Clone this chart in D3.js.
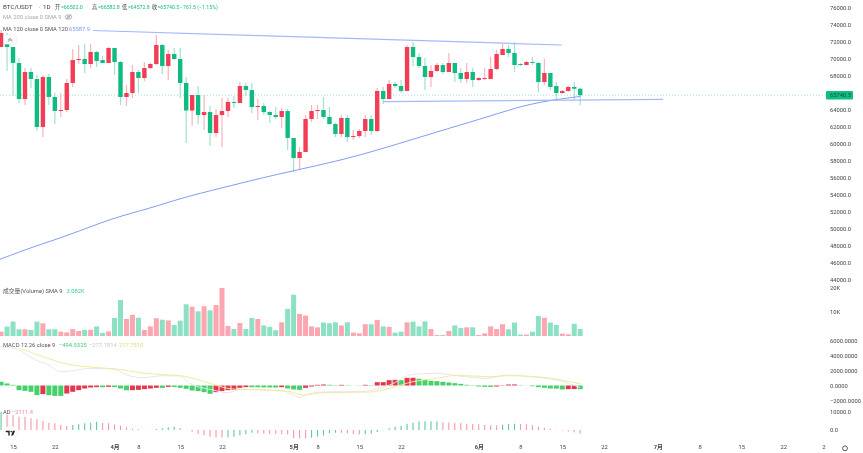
<!DOCTYPE html>
<html>
<head>
<meta charset="utf-8">
<script src="https://cdn.jsdelivr.net/npm/d3@7"></script>
<style>
  html, body { margin: 0; padding: 0; background: #fff; }
  svg { display: block; filter: blur(0.45px); }
  text { font-family: Roboto, "Noto Sans CJK SC", sans-serif; }
  .axis text { font-size: 5.8px; fill: #444; }
  .axis .domain { display: none; }
</style>
</head>
<body>
<div class="chart-container"></div>
<script>
// Candles, left to right, one per day (index 2 is 15 March, index 97 is 18 June)
var opens = [
  71410,71770,71410,69530,65290,68470,67650,62000,67880,65530,
  63880,64000,67180,69880,70000,69410,70820,69880,69530,71290,
  69650,65530,66000,68470,67760,68940,69410,71650,69180,70590,
  70000,67180,63940,65760,63410,63760,61290,63410,63880,64940,
  64820,66820,66350,64350,64470,63760,63410,63180,63880,60710,
  58350,59060,62940,63880,64000,63180,62350,61180,63060,60820,
  60940,61530,62940,61530,66240,65290,67060,66820,66240,71410,
  70240,69180,67880,68590,69290,68470,69530,68350,67650,68470,
  67530,67700,67650,68820,70470,71180,70710,69410,69290,69650,
  69530,67290,68350,66820,66000,66240,66710,66502
];
var highs = [
  73410,73060,71410,70120,68940,68940,68120,68120,68240,66000,
  66000,67650,71180,71650,71770,71770,70940,70350,71410,71290,
  69760,66940,69290,68710,69650,69530,72820,71770,71060,71290,
  71290,67880,65760,66820,65760,64470,64120,65410,65410,65650,
  67290,67180,67180,65290,64820,63880,64350,64240,64120,60710,
  59650,63410,64590,64590,65530,64350,62470,63410,63410,61650,
  61760,63410,63410,66590,66710,67530,67290,67530,71650,72000,
  70710,70120,69290,69530,69530,70710,69530,68940,69530,68940,
  67880,68940,70240,71060,71770,71650,72000,69530,69760,70240,
  69650,70000,68350,67290,66350,66820,67290,66582.8
];
var lows = [
  71410,68590,65650,64820,64590,66590,61530,60820,64590,62350,
  63180,63760,66710,69410,68350,68940,69060,69530,69530,68120,
  64590,64470,65410,66000,67410,68820,69290,68240,67530,69880,
  65410,60120,62120,62350,61650,59760,60820,59650,63180,64240,
  64820,65650,63650,62820,63410,62470,62940,61880,59290,56710,
  57060,59060,62590,62940,62940,62240,60820,60820,60240,60470,
  60710,60820,61060,61410,64710,65290,66590,66000,66240,69180,
  68940,66350,66710,68470,68240,68470,67290,67180,67180,66710,
  67410,67530,67650,68710,70470,70240,68470,69180,69290,69290,
  66120,66940,66350,65180,65880,66120,65180,64572.8
];
var closes = [
  73060,71410,69530,65290,68470,67650,62000,67880,65530,63880,
  64000,67180,69880,70000,69410,70820,69760,69530,71290,69650,
  65530,66000,68470,67760,68940,69410,71650,69180,70590,70000,
  67180,63940,65760,63410,63760,61290,63410,63880,64940,64820,
  66820,66350,64350,64470,63760,63410,63180,63880,60710,58350,
  59060,62940,63880,64000,63180,62350,61180,63060,60820,60940,
  61530,62940,61530,66240,65290,67060,66820,66240,71410,70240,
  69180,67880,68590,69290,68470,69530,68350,67650,68470,67530,
  67760,67760,68820,70590,71180,70710,69290,69290,69650,69530,
  67290,68350,66710,66000,66240,66710,66500,65740.5
];

// Volume in thousands
var volumes = [
  1.8,3.9,6.0,2.8,2.8,2.5,6.0,5.3,2.8,2.8,
  1.8,1.5,2.9,2.1,2.5,2.6,4.0,1.3,1.9,7.5,
  15.0,7.1,8.8,7.6,2.5,4.0,7.4,6.8,6.5,4.6,
  6.4,13.2,12.2,10.3,12.4,10.7,12.9,20.0,4.2,2.9,
  5.4,2.9,7.5,7.1,4.4,3.8,2.4,5.7,11.3,17.2,
  9.2,8.5,4.0,3.6,5.6,5.3,5.7,4.4,5.7,1.4,
  1.1,4.9,4.9,6.7,4.0,3.8,1.4,1.8,5.7,6.0,
  4.0,6.1,2.9,0.4,0.4,2.1,4.4,3.3,3.6,3.6,
  0.4,1.1,4.0,2.9,4.9,2.8,5.6,0.6,0.6,1.8,
  8.3,7.6,5.6,4.6,1.0,0.7,5.1,2.9
];

var macdHist = [
  490,270,90,-620,-710,-840,-1290,-1150,-1290,-1380,
  -1390,-1070,-840,-620,-400,-270,-220,-230,-180,-200,
  -400,-640,-620,-580,-490,-400,-310,-320,-180,-190,
  -310,-440,-670,-750,-890,-1110,-890,-750,-620,-580,
  -310,-220,-230,-240,-250,-260,-270,-220,-400,-530,
  -580,-310,-130,90,130,90,40,90,40,10,
  -30,90,45,440,450,710,750,710,1020,1030,
  890,750,620,580,490,400,310,220,90,40,
  -130,-180,-190,-130,-40,130,135,40,10,-90,
  -220,-310,-400,-410,-530,-490,-480,-494.93
];

var adValues = [
  10000,8190,8100,7280,7200,6370,5820,4910,4000,3640,
  2730,2180,2730,3090,3640,4000,4370,4000,3640,3090,
  2370,1460,730,360,0,180,550,910,1460,1820,
  1090,0,-910,-2180,-2730,-3640,-4000,-4100,-4000,-3640,
  -2910,-2370,-1460,-1820,-2000,-2180,-2200,-2370,-2400,-4550,
  -4600,-4650,-4190,-3640,-3090,-1820,-1460,-1500,-1820,-2180,
  -2400,-2300,-2000,-1090,-100,910,1820,2370,3460,4000,
  4730,4750,4770,4780,4190,4150,4000,3820,3460,3270,
  3090,2730,2550,2500,2910,3270,3460,3270,3090,2550,
  1820,1270,730,180,-300,-800,-1400,-2111.4
];

var maIndex = [-0.2,5.4,11,18.8,25,30,36.7,43.4,49,58.4,66.8,75,82,87.5,93,97];
var maValues = [46435,47916,49176,51328,52434,53611,54788,55964,56858,58317,60082,61847,63294,64553,65258,65587.9];

var signalIndex = [3.2,7,11,15.4,19.4,23.3,26.1,30,32.8,35.5,38.8,42.2,46.7,48.4,50.6,53.9,61.8,65.1,69,73,76.4,81.9,84.7,88.6,93.1,97];
var signalValues = [4960,3840,2870,2430,2200,1710,1490,1310,830,160,-470,-560,-690,-830,-1270,-960,-870,-370,510,960,1360,1170,1310,1230,830,217.75];

var macdIndex = [-0.2,2.7,6,7.7,9.9,12,14.9,18.7,21.1,23.8,27.1,30,31.6,35.5,37.8,40.5,44.5,47.2,48.9,50.1,51.7,55.6,60.1,62.3,65.1,69,73,76.4,81.4,84.7,88.6,93.1,97];
var macdValues = [5170,4830,3310,2870,1840,1970,2290,2200,1400,1040,1310,1270,290,-600,-960,-470,-600,-690,-1270,-1570,-1040,-830,-830,-600,70,1490,1630,1310,960,1400,1170,730,-277.18];

// The two drawn trend lines: [candle index, price] at each end
var trendTop = [[15.4, 73353], [93.9, 71647]];
var trendBottom = [[64, 64976], [110.9, 65246]];

// Tick labels
var priceTicks = [76000,74000,72000,70000,68000,66000,64000,62000,60000,58000,56000,54000,52000,50000,48000,46000,44000];
var volumeTicks = [10, 20];
var macdTicks = [6000,4000,2000,0,-2000];
var adTicks = [10000, 0];
var dateIndex = [2,9,19,23,30,37,49,53,60,67,80,87,94,101,110,117,124,131,138];
var dateLabels = ["15","22","4月","8","15","22","5月","8","15","22","6月","8","15","22","7月","8","15","22","29"];

var lastPrice = 65740.5;
var width = 863;
var height = 453;

var green = "#0fbb80";
var red = "#f23d57";

// Same candle index scale for every pane
var x = d3.scaleLinear().domain([0, 100]).range([1.1, 598.1]);
var yPrice = d3.scaleLinear().domain([44000, 76000]).range([280, 8]);
var yVolume = d3.scaleLinear().domain([0, 20]).range([336, 288]);
var yMacd = d3.scaleLinear().domain([-2000, 6000]).range([400.5, 340.5]);
var yAd = d3.scaleLinear().domain([0, 10000]).range([430, 411.7]);

var svg = d3.select(".chart-container")
  .append("svg")
  .attr("width", width)
  .attr("height", height);

svg.append("clipPath").attr("id", "time-clip")
  .append("rect").attr("x", -5).attr("y", -5).attr("width", 831).attr("height", 30);

var candleIdx = d3.range(closes.length);

//========================== Price pane =================================//
// Last price dotted line
svg.append("line")
  .attr("x1", 0).attr("x2", 826)
  .attr("y1", yPrice(lastPrice)).attr("y2", yPrice(lastPrice))
  .attr("stroke", "#a5e6cf")
  .attr("stroke-dasharray", "1,2");

// Wicks
svg.append("g").selectAll("line")
  .data(candleIdx)
  .enter().append("line")
  .attr("x1", function (i) { return x(i); })
  .attr("x2", function (i) { return x(i); })
  .attr("y1", function (i) { return yPrice(highs[i]); })
  .attr("y2", function (i) { return yPrice(lows[i]); })
  .attr("stroke", function (i) { return closes[i] >= opens[i] ? "#f9b3bc" : "#9fe3cb"; })
  .attr("stroke-width", 1.2);

// Bodies
svg.append("g").selectAll("rect")
  .data(candleIdx)
  .enter().append("rect")
  .attr("x", function (i) { return x(i) - 2.2; })
  .attr("width", 4.4)
  .attr("y", function (i) { return yPrice(Math.max(opens[i], closes[i])); })
  .attr("height", function (i) { return Math.max(1, Math.abs(yPrice(opens[i]) - yPrice(closes[i]))); })
  .attr("fill", function (i) { return closes[i] >= opens[i] ? red : green; });

// Moving average and trend lines
var priceLine = d3.line()
  .x(function (d) { return x(d[0]); })
  .y(function (d) { return yPrice(d[1]); });

svg.append("path")
  .attr("d", priceLine.curve(d3.curveBasis)(d3.zip(maIndex, maValues)))
  .attr("fill", "none")
  .attr("stroke", "#7f9cf5")
  .attr("stroke-width", 1);

priceLine.curve(d3.curveLinear);

[trendTop, trendBottom].forEach(function (t) {
  svg.append("path")
    .attr("d", priceLine(t))
    .attr("fill", "none")
    .attr("stroke", "#a3b9fb")
    .attr("stroke-width", 1.2);
});

//========================== Volume pane =================================//
svg.append("g").selectAll("rect")
  .data(candleIdx)
  .enter().append("rect")
  .attr("x", function (i) { return x(i) - 2.5; })
  .attr("width", 5)
  .attr("y", function (i) { return yVolume(volumes[i]); })
  .attr("height", function (i) { return yVolume(0) - yVolume(volumes[i]); })
  .attr("fill", function (i) { return closes[i] >= opens[i] ? "#fca6b1" : "#8ce0c4"; });

//========================== MACD pane =================================//
svg.append("g").selectAll("rect")
  .data(candleIdx)
  .enter().append("rect")
  .attr("x", function (i) { return x(i) - 2.5; })
  .attr("width", 5)
  .attr("y", function (i) { return Math.min(yMacd(macdHist[i]), yMacd(0)); })
  .attr("height", function (i) { return Math.abs(yMacd(macdHist[i]) - yMacd(0)); })
  .attr("fill", function (i) { return i > 0 && macdHist[i] > macdHist[i - 1] ? "#e0384f" : "#46d06a"; });

var macdLine = d3.line()
  .curve(d3.curveMonotoneX)
  .x(function (d) { return x(d[0]); })
  .y(function (d) { return yMacd(d[1]); });

svg.append("path")
  .attr("d", macdLine(d3.zip(macdIndex, macdValues)))
  .attr("fill", "none")
  .attr("stroke", "#e6e6e6")
  .attr("stroke-width", 1);

svg.append("path")
  .attr("d", macdLine(d3.zip(signalIndex, signalValues)))
  .attr("fill", "none")
  .attr("stroke", "#f2e99e")
  .attr("stroke-width", 1);

//========================== AD pane =================================//
svg.append("g").selectAll("line")
  .data(candleIdx)
  .enter().append("line")
  .attr("x1", function (i) { return x(i); })
  .attr("x2", function (i) { return x(i); })
  .attr("y1", yAd(0))
  .attr("y2", function (i) { return yAd(adValues[i]); })
  .attr("stroke", function (i) { return i === 0 || adValues[i] > adValues[i - 1] ? "#5cc7a8" : "#f797a3"; })
  .attr("stroke-width", 1.1);

//========================== Axes =================================//
function rightAxis(scale, ticks, fmt) {
  svg.append("g")
    .attr("class", "axis")
    .attr("transform", "translate(827,0)")
    .call(d3.axisRight(scale).tickValues(ticks).tickSize(0).tickPadding(3).tickFormat(fmt));
}

rightAxis(yPrice, priceTicks, function (d) { return d3.format(".1f")(d); });
rightAxis(yVolume, volumeTicks, function (d) { return d + "K"; });
rightAxis(yMacd, macdTicks, function (d) { return d3.format(".4f")(d); });
rightAxis(yAd, adTicks, function (d) { return d3.format(".1f")(d); });

// Time axis, the last label runs under the scale corner
svg.append("g")
  .attr("class", "axis")
  .attr("clip-path", "url(#time-clip)")
  .attr("transform", "translate(0,442)")
  .call(d3.axisBottom(x).tickValues(dateIndex).tickSize(0).tickPadding(3)
    .tickFormat(function (d, i) { return dateLabels[i]; }))
  .selectAll("text")
  .style("font-weight", function (d, i) { return dateLabels[i].indexOf("月") > -1 ? "bold" : "normal"; });

// Last price tag
svg.append("rect")
  .attr("x", 826).attr("width", 27)
  .attr("y", yPrice(lastPrice) - 4.2).attr("height", 8.4)
  .attr("rx", 0.8)
  .attr("fill", "#0dbf80");

svg.append("text")
  .attr("x", 830)
  .attr("y", yPrice(lastPrice))
  .attr("dy", "0.35em")
  .attr("font-size", 5.8)
  .attr("fill", "#1b4d3c")
  .text(d3.format(".1f")(lastPrice));

//========================== Legends =================================//
function legend(y, size, parts) {
  parts.forEach(function (p) {
    svg.append("text")
      .attr("x", p[0])
      .attr("y", y)
      .attr("font-size", size)
      .attr("fill", p[2])
      .text(p[1]);
  });
}

var upText = "#17b985";

legend(8.5, 6.2, [[3, "BTC/USDT", "#444"], [39, "·", "#444"], [43, "1D", "#444"]]);
legend(8.5, 5.2, [
  [55, "开", "#444"], [61, "=66502.0", upText],
  [92, "高", "#444"], [98, "=66582.8", upText],
  [122, "低", "#444"], [128, "=64572.8", upText],
  [152, "收", "#444"], [157.5, "=65740.5", upText],
  [180, "−761.5 (−1.15%)", upText]
]);
legend(19, 5.8, [[3, "MA 200 close 0 SMA 9", "#aaa"]]);
legend(30.5, 5.8, [[3, "MA 120 close 0 SMA 120", "#555"], [69, "65587.9", "#7d98f0"]]);
legend(292.5, 5.8, [[3, "成交量(Volume) SMA 9", "#555"], [66.5, "3.082K", "#3cc9a0"]]);
legend(346.5, 5.8, [
  [3, "MACD 12 26 close 9", "#555"],
  [59, "−494.9325", "#45c96a"],
  [89, "−277.1814", "#c8c8c8"],
  [119, "217.7510", "#e3d672"]
]);
legend(413.5, 5.8, [[3, "AD", "#555"], [12, "−2111.4", "#f58d9a"]]);

// Eye icon beside the hidden MA
var eye = svg.append("g").attr("transform", "translate(68.5,17)")
  .attr("fill", "none").attr("stroke", "#888").attr("stroke-width", 0.6);
eye.append("ellipse").attr("rx", 3.4).attr("ry", 2.2);
eye.append("circle").attr("r", 1);
eye.append("line").attr("x1", -2.6).attr("y1", 2.6).attr("x2", 2.6).attr("y2", -2.6);

// Collapse button over the first candles
var btn = svg.append("g").attr("transform", "translate(10,39.5)");
btn.append("rect")
  .attr("x", -6.2).attr("y", -4.6).attr("width", 12.4).attr("height", 9.2).attr("rx", 1.5)
  .attr("fill", "#fff").attr("stroke", "#e8e8e8").attr("stroke-width", 0.6);
btn.append("path")
  .attr("d", "M-2.2,0.8L0,-1.2L2.2,0.8M-2.2,2.2L0,0.2L2.2,2.2")
  .attr("fill", "none").attr("stroke", "#555").attr("stroke-width", 0.6);

// Logo badge bottom left
var logo = svg.append("g").attr("transform", "translate(10.3,433)");
logo.append("circle")
  .attr("r", 7).attr("fill", "#fff").attr("stroke", "#ececec").attr("stroke-width", 0.6);
logo.append("path")
  .attr("d", "M-4.6,-2.2H-0.6V2.6H-2V-0.8H-4.6ZM2.6,-2.2H4.8L2.8,2.6H0.8Z")
  .attr("fill", "#222");
logo.append("circle").attr("cx", 0.9).attr("cy", -1.4).attr("r", 0.8).attr("fill", "#222");

// Settings gear in the scale corner
svg.append("circle")
  .attr("cx", 845).attr("cy", 448.3).attr("r", 2.4)
  .attr("fill", "none").attr("stroke", "#444").attr("stroke-width", 0.9);
</script>
</body>
</html>
